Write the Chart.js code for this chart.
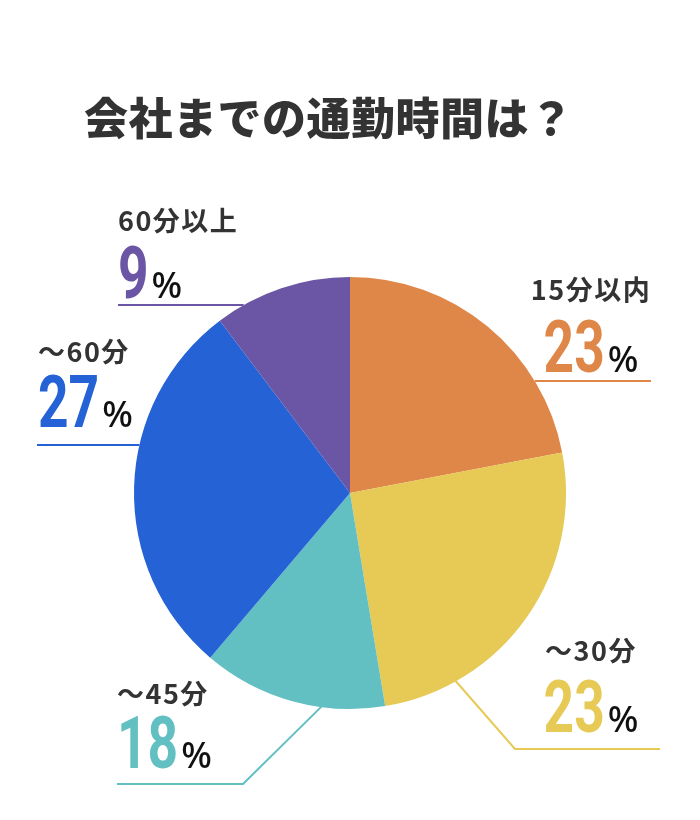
<!DOCTYPE html>
<html>
<head>
<meta charset="utf-8">
<script src="https://cdn.jsdelivr.net/npm/chart.js@4"></script>
<style>
  html, body { margin: 0; padding: 0; background: #fff; }
  #wrap { width: 700px; height: 820px; }
</style>
</head>
<body>
<div id="wrap"><canvas id="chart" width="700" height="820"></canvas></div>
<script>
// data
const titleText = '会社までの通勤時間は？';
const categories = ['15分以内', '～30分', '～45分', '～60分', '60分以上'];
const labelPercents = [23, 23, 18, 27, 9];
// sector sizes as actually drawn in the reference (they do not follow the labels exactly)
const sliceShares = [22.0, 25.4, 13.8, 28.5, 10.3];
const sliceColors = ['#DF8748', '#E6CA55', '#62BFC2', '#2462D6', '#6A56A4'];

// callout layout: where each label sits and how its leader line runs
const callouts = [
    { align: 'center', x: 591, labelY: 290, numY: 372, line: { type: 'h', y: 381, end: 651 } },
    { align: 'center', x: 591, labelY: 651, numY: 732, line: { type: 'elbow', angle: 150.7, elbow: [515, 749], end: 660 } },
    { align: 'left', x: 117, labelY: 694, numY: 768, line: { type: 'elbow', angle: 187.5, elbow: [243, 784], end: 117 } },
    { align: 'left', x: 38, labelY: 352, numY: 427, line: { type: 'h', y: 445, end: 37 } },
    { align: 'left', x: 118, labelY: 221, numY: 298, line: { type: 'h', y: 305, end: 118 } }
];

const TITLE_FONT = '900 44px "Noto Sans CJK JP"';
const LABEL_FONT = '700 27px "Noto Sans CJK JP"';
const NUM_FONT = 'bold 72px Roboto';
const NUM_SCALE = 0.74;
const PCT_FONT = '500 36px "Noto Sans"';

const calloutPlugin = {
    id: 'callouts',
    afterDraw(chart) {
        const ctx = chart.ctx;
        const arc = chart.getDatasetMeta(0).data[0];
        const cx = arc.x, cy = arc.y, r = arc.outerRadius;

        ctx.save();
        // title
        ctx.fillStyle = '#333333';
        ctx.font = TITLE_FONT;
        ctx.letterSpacing = '0.5px';
        ctx.textAlign = 'left';
        ctx.textBaseline = 'middle';
        ctx.fillText(titleText, 84, 118);

        callouts.forEach((c, i) => {
            const color = sliceColors[i];

            // leader line
            ctx.strokeStyle = color;
            ctx.lineWidth = 2;
            ctx.beginPath();
            if (c.line.type === 'h') {
                const dx = Math.sqrt(r * r - (c.line.y - cy) * (c.line.y - cy));
                const edgeX = c.line.end > cx ? cx + dx : cx - dx;
                ctx.moveTo(edgeX, c.line.y);
                ctx.lineTo(c.line.end, c.line.y);
            } else {
                const a = (c.line.angle - 90) * Math.PI / 180;
                ctx.moveTo(cx + (r - 1) * Math.cos(a), cy + (r - 1) * Math.sin(a));
                ctx.lineTo(c.line.elbow[0], c.line.elbow[1]);
                ctx.lineTo(c.line.end, c.line.elbow[1]);
            }
            ctx.stroke();

            // category label
            ctx.letterSpacing = '1.5px';
            ctx.font = LABEL_FONT;
            ctx.fillStyle = '#333333';
            ctx.textBaseline = 'middle';
            ctx.textAlign = 'left';
            const lw = ctx.measureText(categories[i]).width;
            const lx = c.align === 'center' ? c.x - lw / 2 : c.x;
            ctx.fillText(categories[i], lx, c.labelY);

            // big number + %
            ctx.letterSpacing = '0px';
            const numStr = String(labelPercents[i]);
            ctx.font = NUM_FONT;
            const nw = ctx.measureText(numStr).width * NUM_SCALE;
            ctx.font = PCT_FONT;
            const pw = ctx.measureText('%').width;
            const gap = 3;
            const total = nw + gap + pw;
            const nx = c.align === 'center' ? c.x - total / 2 : c.x;

            ctx.textBaseline = 'alphabetic';
            ctx.save();
            ctx.translate(nx, c.numY);
            ctx.scale(NUM_SCALE, 1);
            ctx.font = NUM_FONT;
            ctx.fillStyle = color;
            ctx.fillText(numStr, 0, 0);
            ctx.restore();

            ctx.font = PCT_FONT;
            ctx.fillStyle = '#111111';
            ctx.fillText('%', nx + nw + gap, c.numY);
        });
        ctx.restore();
    }
};

new Chart(document.getElementById('chart'), {
    type: 'pie',
    data: {
        labels: categories,
        datasets: [{
            data: sliceShares,
            backgroundColor: sliceColors,
            borderWidth: 0
        }]
    },
    options: {
        responsive: false,
        animation: false,
        layout: {
            padding: { top: 277, bottom: 111, left: 134, right: 134 }
        },
        plugins: {
            legend: { display: false },
            tooltip: { enabled: false }
        }
    },
    plugins: [calloutPlugin]
});
</script>
</body>
</html>
